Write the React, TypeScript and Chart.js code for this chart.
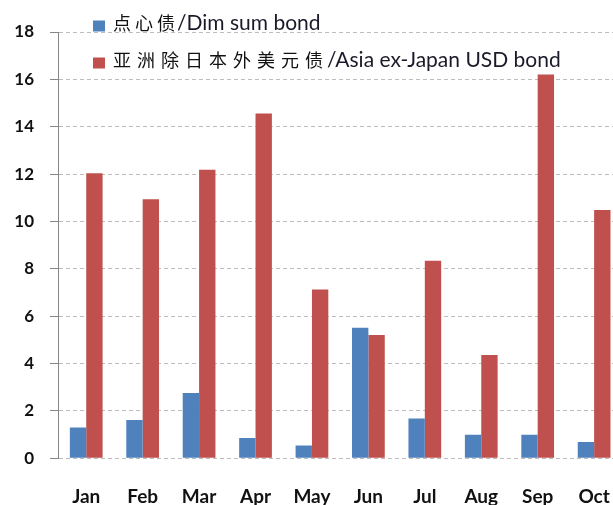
import React, { useEffect, useRef } from 'react';
import { Chart, registerables } from 'chart.js';

Chart.register(...registerables);

const months = ['Jan', 'Feb', 'Mar', 'Apr', 'May', 'Jun', 'Jul', 'Aug', 'Sep', 'Oct'];
const dimSum = [1.3, 1.61, 2.75, 0.85, 0.54, 5.51, 1.68, 0.99, 0.99, 0.68];
const asiaUsd = [12.03, 10.94, 12.18, 14.56, 7.12, 5.2, 8.34, 4.36, 16.2, 10.48];
const seriesZh = ['点心债', '亚洲除日本外美元债'];
const seriesEn = ['/Dim sum bond', '/Asia ex-Japan USD bond'];
const seriesColors = ['#4F81BD', '#C0504D'];
const yMin = 0;
const yMax = 18;
const yStep = 2;

const legendPlugin = {
  id: 'insideLegend',
  afterDraw(chart: any) {
    const ctx = chart.ctx as CanvasRenderingContext2D;
    const rowsY = [26, 63];
    const spacing = ['4px', '6px'];
    ctx.save();
    chart.data.datasets.forEach((ds: any, i: number) => {
      const cy = rowsY[i];
      ctx.fillStyle = ds.backgroundColor;
      ctx.fillRect(93, cy - 5.5, 12, 11);
      ctx.textBaseline = 'middle';
      ctx.textAlign = 'left';
      ctx.fillStyle = '#111';
      ctx.font = '18px "Noto Sans CJK SC"';
      (ctx as any).letterSpacing = spacing[i];
      ctx.fillText(seriesZh[i], 113, cy - 3);
      const w = ctx.measureText(seriesZh[i]).width;
      (ctx as any).letterSpacing = '0px';
      ctx.font = '21px Lato';
      ctx.fillStyle = '#1a1a2a';
      ctx.fillText(seriesEn[i], 113 + w - 2, cy - 3);
    });
    ctx.restore();
  },
};

export default function App() {
  const ref = useRef<HTMLCanvasElement | null>(null);
  useEffect(() => {
    if (!ref.current) return;
    const chart = new Chart(ref.current, {
      type: 'bar',
      data: {
        labels: months,
        datasets: [
          {
            label: seriesZh[0] + seriesEn[0],
            data: dimSum,
            backgroundColor: seriesColors[0],
            borderWidth: 0,
            categoryPercentage: 0.58,
            barPercentage: 1,
          },
          {
            label: seriesZh[1] + seriesEn[1],
            data: asiaUsd,
            backgroundColor: seriesColors[1],
            borderWidth: 0,
            categoryPercentage: 0.58,
            barPercentage: 1,
          },
        ],
      },
      options: {
        responsive: false,
        animation: false,
        devicePixelRatio: 1,
        layout: { padding: { top: 32, right: 3, bottom: 3, left: 0 } },
        plugins: { legend: { display: false }, tooltip: { enabled: false } },
        scales: {
          x: {
            grid: { display: false, drawTicks: false },
            border: { display: false },
            ticks: {
              color: '#111',
              padding: 27,
              font: { family: 'Lato', size: 19, weight: 'bold' },
            },
          },
          y: {
            min: yMin,
            max: yMax,
            afterFit: (scale: any) => {
              scale.width = 58;
            },
            ticks: {
              stepSize: yStep,
              color: '#111',
              padding: 16,
              font: { family: 'Lato', size: 17, weight: 'bold' },
            },
            grid: {
              color: '#BDBDBD',
              lineWidth: 1,
              tickLength: 8,
              tickColor: '#868686',
              tickBorderDash: [],
              tickWidth: 1,
            } as any,
            border: { display: true, color: '#868686', width: 1, dash: [4, 3] },
          },
        },
      },
      plugins: [legendPlugin],
    });
    return () => chart.destroy();
  }, []);
  return (
    <div style={{ position: 'absolute', left: 0, top: 0, width: 613, height: 505, overflow: 'hidden', background: '#fff' }}>
      <canvas ref={ref} width={637} height={538} style={{ display: 'block' }} />
    </div>
  );
}
